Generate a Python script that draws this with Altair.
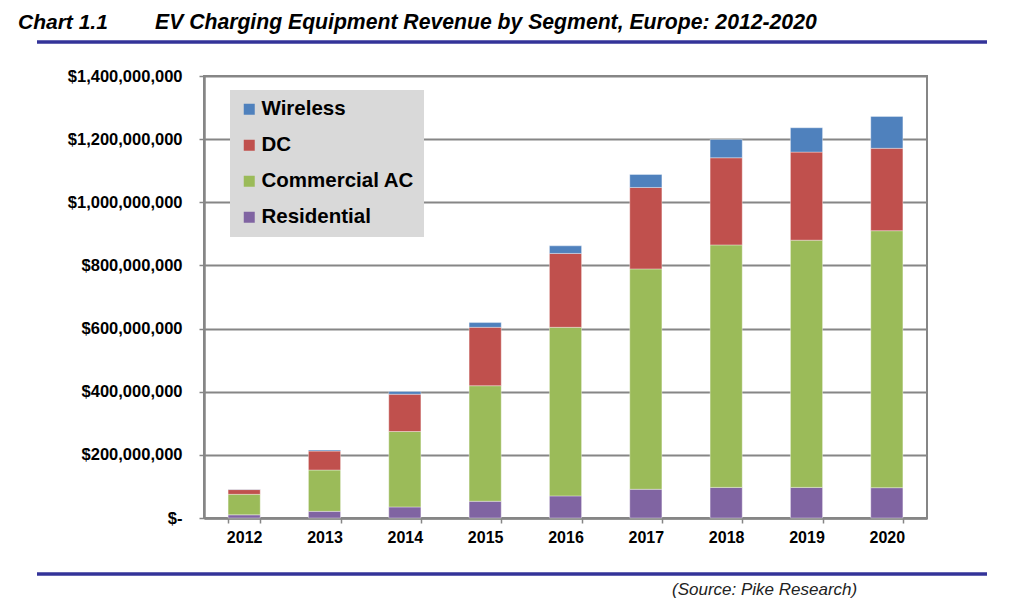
import altair as alt
import pandas as pd

years = ["2012", "2013", "2014", "2015", "2016", "2017", "2018", "2019", "2020"]
segments = ["Wireless", "DC", "Commercial AC", "Residential"]
seg_colors = ["#4F81BD", "#C0504D", "#9BBB59", "#8064A2"]
# values in millions of US$
residential = [10, 21, 35, 53, 70, 91, 97, 97, 96]
commercial_ac = [65, 131, 239, 366, 534, 698, 768, 783, 814]
dc = [15, 60, 118, 185, 234, 258, 276, 279, 261]
wireless = [1, 3, 9, 15, 24, 41, 58, 77, 101]

chart_label = "Chart 1.1"
title_text = "EV Charging Equipment Revenue by Segment, Europe: 2012-2020"
source_text = "(Source: Pike Research)"

rows = []
series = {"Residential": residential, "Commercial AC": commercial_ac, "DC": dc, "Wireless": wireless}
stack_order = {"Residential": 0, "Commercial AC": 1, "DC": 2, "Wireless": 3}
for seg, vals in series.items():
    for y, v in zip(years, vals):
        rows.append({"year": y, "segment": seg, "value": v * 1e6, "order": stack_order[seg]})
df = pd.DataFrame(rows)

FONT = "Liberation Sans"
LINE = "#333399"
GRAY = "#868686"

bars = alt.Chart(df).mark_bar(stroke="#ffffff", strokeWidth=0.6, strokeOpacity=0.6).encode(
    x=alt.X("year:N", sort=years,
            scale=alt.Scale(paddingInner=0.6, paddingOuter=0.3),
            axis=alt.Axis(title=None, labelAngle=0, tickBand="extent", grid=False,
                          labelFontSize=16, labelFontWeight="bold", labelColor="#000000",
                          labelFont=FONT, labelPadding=6, tickSize=5, tickColor=GRAY,
                          tickWidth=1.5, domainColor=GRAY, domainWidth=2.5)),
    y=alt.Y("value:Q", stack="zero",
            scale=alt.Scale(domain=[0, 1.4e9], nice=False),
            axis=alt.Axis(title=None, values=[i * 2e8 for i in range(8)],
                          labelExpr="datum.value == 0 ? '$-' : '$' + format(datum.value, ',')",
                          labelFontSize=16.5, labelFontWeight="bold", labelColor="#000000",
                          labelFont=FONT, labelPadding=17, tickSize=5, tickColor=GRAY,
                          tickWidth=1.5, domainColor=GRAY, domainWidth=2.5,
                          grid=True, gridColor=GRAY, gridWidth=1.8)),
    color=alt.Color("segment:N",
                    scale=alt.Scale(domain=segments, range=seg_colors),
                    legend=alt.Legend(title=None, orient="none", legendX=26, legendY=14,
                                      fillColor="#d9d9d9", padding=9,
                                      symbolType="square", symbolSize=121, symbolStrokeWidth=0,
                                      labelFontSize=20.5, labelFontWeight="bold",
                                      labelFont=FONT, labelColor="#000000",
                                      labelOffset=2, rowPadding=15)),
    order=alt.Order("order:Q", sort="ascending"),
)

one = pd.DataFrame({"chart": [chart_label], "title": [title_text], "source": [source_text]})

chart_lbl = alt.Chart(one).mark_text(
    font=FONT, fontSize=21, fontWeight="bold", fontStyle="italic", align="left",
    baseline="middle", color="#000000"
).encode(text="chart:N", x=alt.value(-186), y=alt.value(-53))

title_lbl = alt.Chart(one).mark_text(
    font=FONT, fontSize=21.2, fontWeight="bold", fontStyle="italic", align="left",
    baseline="middle", color="#000000"
).encode(text="title:N", x=alt.value(-49), y=alt.value(-53))

top_line = alt.Chart(one).mark_rule(color=LINE, strokeWidth=3.5).encode(
    x=alt.value(-167), x2=alt.value(783), y=alt.value(-34))

bottom_line = alt.Chart(one).mark_rule(color=LINE, strokeWidth=3.5).encode(
    x=alt.value(-167), x2=alt.value(783), y=alt.value(498))

source_lbl = alt.Chart(one).mark_text(
    font=FONT, fontSize=17, fontStyle="italic", align="left",
    baseline="middle", color="#222222"
).encode(text="source:N", x=alt.value(468), y=alt.value(514))

chart = alt.layer(bars, chart_lbl, title_lbl, top_line, bottom_line, source_lbl).properties(
    width=723, height=442,
    padding={"left": 196, "top": 68, "right": 88, "bottom": 80},
    autosize=alt.AutoSizeParams(type="none"),
).configure(font=FONT).configure_view(stroke=GRAY, strokeWidth=2)

chart.save("out.html", embed_options={"renderer": "svg", "actions": False})
